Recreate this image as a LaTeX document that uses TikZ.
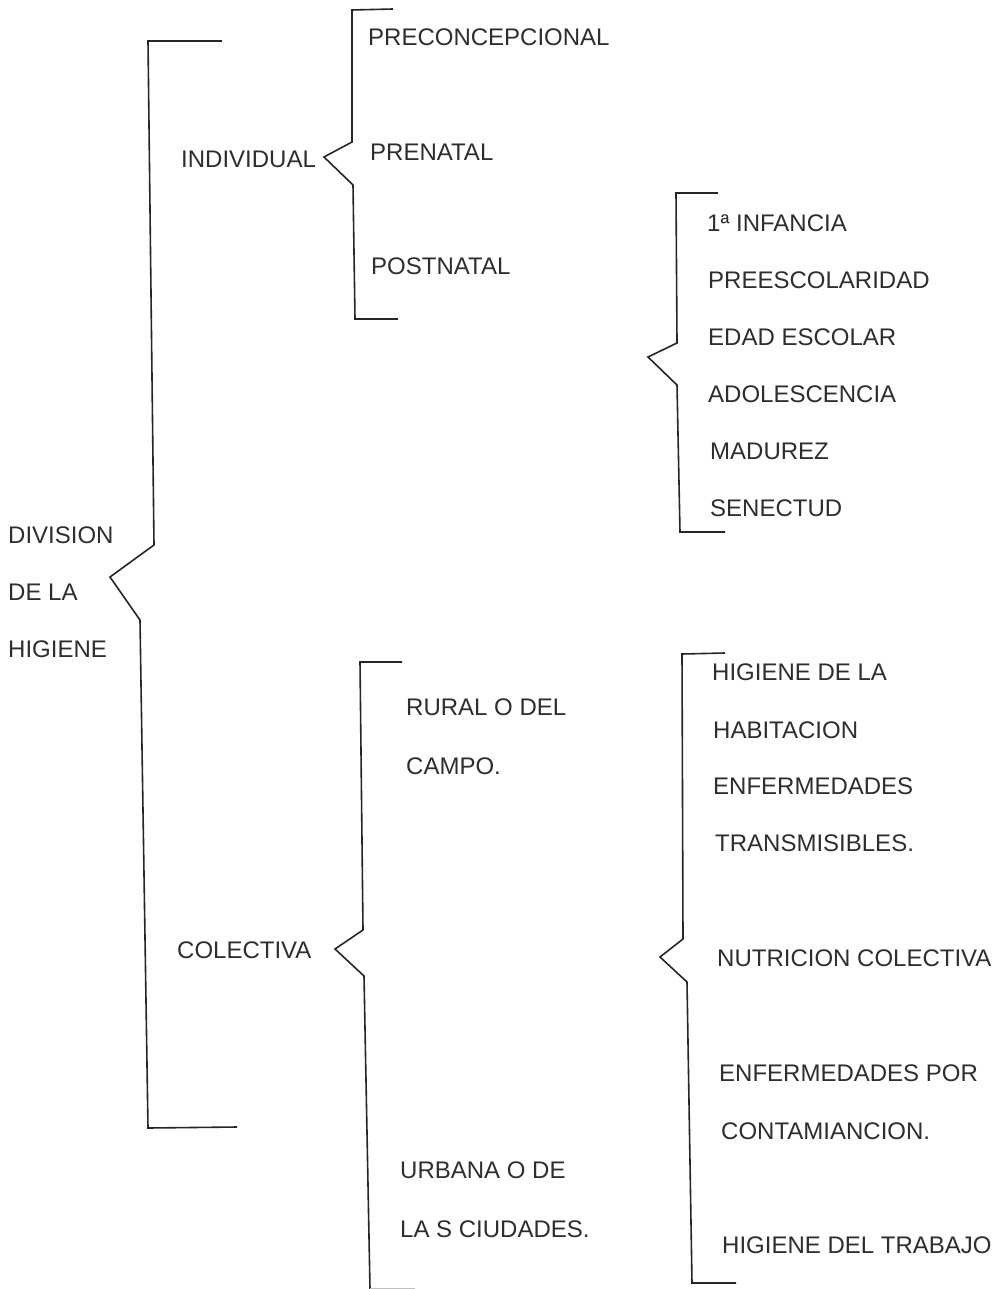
\documentclass[tikz,border=0pt]{standalone}
\usepackage{fontspec}
\setmainfont{Liberation Sans}
\begin{document}
\begin{tikzpicture}[x=1pt,y=-1pt,
  lbl/.style={anchor=west,inner sep=0pt,text=black!82,font=\fontsize{24}{28}\selectfont},
  brk/.style={draw=black!85,line width=1.6pt,line join=miter}]
\useasboundingbox[fill=white] (0,0) rectangle (1006,1289);
% main bracket
\draw[brk] (222,41) -- (148,41) -- (154,545) -- (110,577) -- (140,620) -- (148,1128) -- (237,1127);
% individual bracket
\draw[brk] (393,9) -- (352,10) -- (352,142) -- (324,157) -- (353,185) -- (355,319) -- (398,319);
% life stages bracket
\draw[brk] (718,193) -- (676,193) -- (677,343) -- (648,357) -- (677,385) -- (680,532) -- (725,532);
% colectiva bracket
\draw[brk] (402,662) -- (360,662) -- (363,930) -- (335,949) -- (364,976) -- (370,1289);
\draw[draw=black!25,line width=1pt] (370,1288) -- (415,1288);
% right bracket
\draw[brk] (725,653) -- (682,654) -- (683,939) -- (660,957) -- (687,982) -- (692,1283) -- (736,1283);

\node[lbl] (div1) at (8,535) {DIVISION};
\node[lbl] (div2) at (8,592) {DE LA};
\node[lbl] (div3) at (8,649) {HIGIENE};
\node[lbl] (ind) at (181,159) {INDIVIDUAL};
\node[lbl] (col) at (177,950) {COLECTIVA};
\node[lbl] (pre) at (368,37) {PRECONCEPCIONAL};
\node[lbl] (pren) at (370,152) {PRENATAL};
\node[lbl] (post) at (371,266) {POSTNATAL};
\node[lbl] (inf) at (707,223) {1ª INFANCIA};
\node[lbl] (pres) at (708,280) {PREESCOLARIDAD};
\node[lbl] (esc) at (708,337) {EDAD ESCOLAR};
\node[lbl] (ado) at (708,394) {ADOLESCENCIA};
\node[lbl] (mad) at (710,451) {MADUREZ};
\node[lbl] (sen) at (710,508) {SENECTUD};
\node[lbl] (rur1) at (406,707) {RURAL O DEL};
\node[lbl] (rur2) at (406,766) {CAMPO.};
\node[lbl] (urb1) at (400,1170) {URBANA O DE};
\node[lbl] (urb2) at (400,1229) {LA S CIUDADES.};
\node[lbl] (hab1) at (712,672) {HIGIENE DE LA};
\node[lbl] (hab2) at (713,730) {HABITACION};
\node[lbl] (enf1) at (713,786) {ENFERMEDADES};
\node[lbl] (enf2) at (715,843) {TRANSMISIBLES.};
\node[lbl] (nut) at (717,958) {NUTRICION COLECTIVA};
\node[lbl] (con1) at (719,1073) {ENFERMEDADES POR};
\node[lbl] (con2) at (721,1131) {CONTAMIANCION.};
\node[lbl] (trab) at (722,1245) {HIGIENE DEL TRABAJO};
\end{tikzpicture}
\end{document}
